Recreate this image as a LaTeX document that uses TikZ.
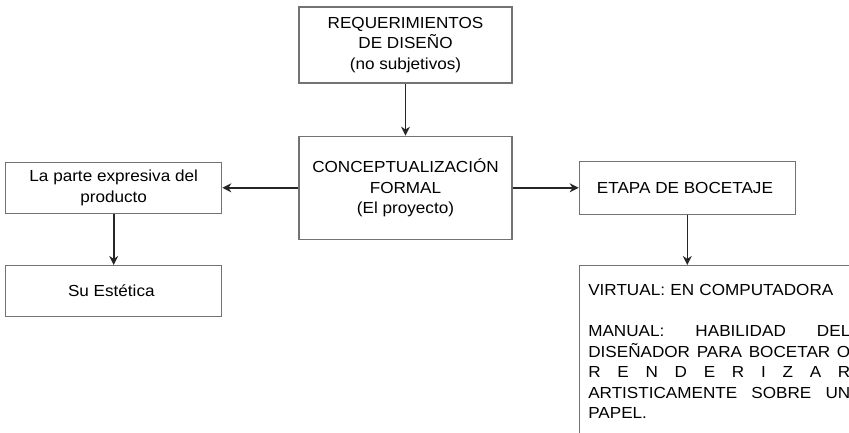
\documentclass[tikz,border=0pt]{standalone}
\usepackage{fontspec}
\setmainfont{Liberation Sans}[FakeStretch=1.07]
\usepackage{tikz}
\usetikzlibrary{arrows.meta,positioning}

\begin{document}
\begin{tikzpicture}[x=1pt, y=1pt,
    caja/.style={draw=black!55, line width=1.3pt, rectangle, align=center,
        font=\fontsize{16}{20.5}\selectfont},
    flecha/.style={-{Stealth[length=9pt,width=9pt]}, line width=1.6pt, black!85}]

    \useasboundingbox (0,0) rectangle (849,-433);

    % Requerimientos
    \node[caja, minimum width=213pt, minimum height=76pt] (req) at (405.5,-45) {
        REQUERIMIENTOS \\
        DE DISEÑO \\
        (no subjetivos)
    };

    % Centro
    \node[caja, minimum width=213pt, minimum height=103pt, below=52pt of req] (concepto) {
        CONCEPTUALIZACIÓN \\
        FORMAL \\
        (El proyecto)
    };

    % Rama izquierda
    \node[caja, minimum width=216pt, minimum height=51pt, left=76pt of concepto] (expresiva) {
        La parte expresiva del \\
        producto
    };

    \node[caja, minimum width=216pt, minimum height=51pt, below=51pt of expresiva] (estetica) {
        Su Estética
    };

    % Rama derecha
    \node[caja, minimum width=216pt, minimum height=53pt, right=66pt of concepto] (bocetaje) {
        ETAPA DE BOCETAJE
    };

    \node[caja, align=left, text width=262pt, inner xsep=9pt, inner ysep=19pt,
        below=50pt of bocetaje.south west, anchor=north west] (medios) {
        VIRTUAL: EN COMPUTADORA \\[20.5pt]
        MANUAL:\hfill HABILIDAD\hfill DEL \\
        DISEÑADOR\hfill PARA\hfill BOCETAR\hfill O \\
        R\hfill E\hfill N\hfill D\hfill E\hfill R\hfill I\hfill Z\hfill A\hfill R \\
        ARTISTICAMENTE\hfill SOBRE\hfill UN \\
        PAPEL.
    };

    % Relaciones
    \draw[flecha] (req) -- (concepto);
    \draw[flecha] (concepto.west) -- (concepto.west -| expresiva.east);
    \draw[flecha] (expresiva) -- (estetica);
    \draw[flecha] (concepto.east) -- (concepto.east -| bocetaje.west);
    \draw[flecha] (bocetaje.south) -- (bocetaje.south |- medios.north);

\end{tikzpicture}
\end{document}
